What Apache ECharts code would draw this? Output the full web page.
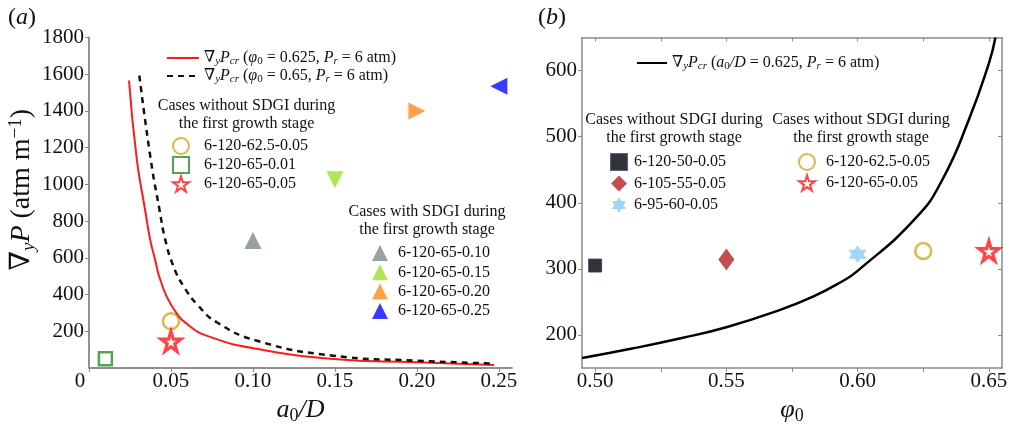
<!DOCTYPE html>
<html>
<head>
<meta charset="utf-8">
<script src="https://cdn.jsdelivr.net/npm/echarts@6/dist/echarts.min.js"></script>
<style>
html, body { margin: 0; padding: 0; background: #fff; }
#main { width: 1011px; height: 425px; }
</style>
</head>
<body>
<div id="main"></div>
<script>
// panel (a): critical gradient vs a0/D
const redCurveX = [0.0244, 0.0292, 0.0342, 0.0373, 0.0403, 0.0434, 0.0505, 0.0617, 0.0760, 0.1000, 0.149, 0.200, 0.247];
const redCurveY = [1566, 1133, 862, 699, 591, 482, 338, 226, 163, 108, 49, 31, 16];
const dashCurveX = [0.0307, 0.0377, 0.0430, 0.0465, 0.0515, 0.0576, 0.0668, 0.0781, 0.1025, 0.149, 0.200, 0.245];
const dashCurveY = [1593, 1133, 862, 699, 554, 446, 338, 248, 148, 67, 40, 25];

const leftCaseNames = ['6-120-62.5-0.05', '6-120-65-0.01', '6-120-65-0.05', '6-120-65-0.10', '6-120-65-0.15', '6-120-65-0.20', '6-120-65-0.25'];
const leftCaseX = [0.05, 0.01, 0.05, 0.10, 0.15, 0.20, 0.25];
const leftCaseY = [255, 50, 145, 695, 1025, 1400, 1535];

// panel (b): critical gradient vs phi0
const phiCurveX = [0.495, 0.5136, 0.5326, 0.5503, 0.5705, 0.583, 0.5932, 0.600, 0.6222, 0.6323, 0.6424, 0.650, 0.6525];
const phiCurveY = [165, 179, 195, 212, 238, 258, 279, 297, 377, 435, 526, 611, 650];

const rightCaseNames = ['6-120-50-0.05', '6-105-55-0.05', '6-95-60-0.05', '6-120-62.5-0.05', '6-120-65-0.05'];
const rightCaseX = [0.50, 0.55, 0.60, 0.625, 0.65];
const rightCaseY = [305, 314, 322, 327, 327];

// ticks
const leftXTicks = [0, 0.05, 0.10, 0.15, 0.20, 0.25];
const leftYTicks = [200, 400, 600, 800, 1000, 1200, 1400, 1600, 1800];
const rightXTicks = [0.50, 0.55, 0.60, 0.65];
const rightXMinor = [0.50, 0.525, 0.55, 0.575, 0.60, 0.625, 0.65];
const rightYTicks = [200, 300, 400, 500, 600];

const serif = '"Liberation Serif", "DejaVu Serif", serif';
const star5 = 'path://M50,0 L61,35 L98,35 L68,57 L79,91 L50,70 L21,91 L32,57 L2,35 L39,35 Z';
const star6 = 'path://M50,0 L64,25 L93,25 L79,50 L93,75 L64,75 L50,100 L36,75 L7,75 L21,50 L7,25 L36,25 Z';

function zip(xs, ys) {
    return xs.map((x, i) => [x, ys[i]]);
}

function mkRich(size) {
    const lh = Math.round(size * 1.15);
    const s = Math.round(size * 0.68);
    return {
        it: {fontStyle: 'italic', fontFamily: serif, fontSize: size, lineHeight: lh, color: '#111'},
        sub: {fontStyle: 'italic', fontFamily: serif, fontSize: s, lineHeight: Math.round(s * 0.8), verticalAlign: 'bottom', color: '#111'},
        subn: {fontFamily: serif, fontSize: s, lineHeight: Math.round(s * 0.8), verticalAlign: 'bottom', color: '#111'},
        sup: {fontFamily: serif, fontSize: s, lineHeight: Math.round(s * 0.8), verticalAlign: 'top', color: '#111'},
        z: {fontFamily: serif, fontSize: size, padding: [0, 18, 0, 0], color: '#111'}
    };
}

const lineLabels = {
    'gradP phi0=0.625': '∇{sub|y}{it|P}{sub|cr} ({it|φ}{subn|0} = 0.625, {it|P}{sub|r} = 6 atm)',
    'gradP phi0=0.65': '∇{sub|y}{it|P}{sub|cr} ({it|φ}{subn|0} = 0.65, {it|P}{sub|r} = 6 atm)',
    'gradP a0/D=0.625': '∇{sub|y}{it|P}{sub|cr} ({it|a}{subn|0}{it|/D} = 0.625, {it|P}{sub|r} = 6 atm)'
};

const frame = {show: true, lineStyle: {color: '#8a8a8a', width: 1.5}};
const tickOut = {length: 4, lineStyle: {color: '#8a8a8a', width: 1}};
const labelStyle = {fontFamily: serif, fontSize: 21, color: '#111'};

const leftMarks = [
    {symbol: 'circle', symbolSize: 16, itemStyle: {color: '#fff', borderColor: '#d9a21b', borderWidth: 2.5}},
    {symbol: 'rect', symbolSize: 13, itemStyle: {color: '#fff', borderColor: '#2a8c2a', borderWidth: 2.5}},
    {symbol: star5, symbolSize: 20, itemStyle: {color: '#fff', borderColor: '#ff1717', borderWidth: 3.2}},
    {symbol: 'triangle', symbolSize: 17, itemStyle: {color: '#7d8985'}},
    {symbol: 'triangle', symbolSize: 17, symbolRotate: 180, itemStyle: {color: '#9fdf2a'}},
    {symbol: 'triangle', symbolSize: 17, symbolRotate: -90, itemStyle: {color: '#ff8a1c'}},
    {symbol: 'triangle', symbolSize: 17, symbolRotate: 90, itemStyle: {color: '#0808ff'}}
];
const rightMarks = [
    {symbol: 'rect', symbolSize: 13, itemStyle: {color: '#000', borderColor: '#2a3a6a', borderWidth: 1}},
    {symbol: 'diamond', symbolSize: [16, 22], itemStyle: {color: '#b32222'}},
    {symbol: star6, symbolSize: 18, itemStyle: {color: '#88ccf8'}},
    leftMarks[0],
    leftMarks[2]
];

const series = [
    {name: 'gradP phi0=0.625', type: 'line', xAxisIndex: 0, yAxisIndex: 0, data: zip(redCurveX, redCurveY),
        smooth: 0.5, symbol: 'none', lineStyle: {color: '#ff1a1a', width: 2}, itemStyle: {color: '#ff1a1a'}},
    {name: 'gradP phi0=0.65', type: 'line', xAxisIndex: 0, yAxisIndex: 0, data: zip(dashCurveX, dashCurveY),
        smooth: 0.5, symbol: 'none', lineStyle: {color: '#111', width: 2.5, type: [6, 5]}, itemStyle: {color: '#111'}},
    {name: 'gradP a0/D=0.625', type: 'line', xAxisIndex: 2, yAxisIndex: 2, data: zip(phiCurveX, phiCurveY),
        smooth: 0.5, symbol: 'none', lineStyle: {color: '#000', width: 2.5}, itemStyle: {color: '#000'}}
];
leftCaseNames.forEach((n, i) => {
    series.push(Object.assign({name: n, type: 'scatter', xAxisIndex: 0, yAxisIndex: 0,
        data: [[leftCaseX[i], leftCaseY[i]]]}, leftMarks[i]));
});
rightCaseNames.forEach((n, i) => {
    series.push(Object.assign({name: n, type: 'scatter', xAxisIndex: 2, yAxisIndex: 2,
        data: [[rightCaseX[i], rightCaseY[i]]]}, rightMarks[i]));
});

function legend(opts, textPad) {
    return Object.assign({
        orient: 'vertical', padding: 0, itemHeight: 16, itemWidth: 16,
        textStyle: {fontFamily: serif, fontSize: 16, color: '#111', lineHeight: 18, rich: mkRich(16), padding: [0, 0, 0, textPad]},
        formatter: name => lineLabels[name] || name
    }, opts);
}
// line legends: hide the marker that echarts adds on top of the line icon
const lineItem = name => ({name: name, itemStyle: {opacity: 0}});

const groupTitle = (x, y, text) => ({
    type: 'text', x: x, y: y,
    style: {text: text, fill: '#111', font: '16px ' + serif, align: 'center', verticalAlign: 'middle', lineHeight: 18}
});

const chart = echarts.init(document.getElementById('main'));
chart.setOption({
    animation: false,
    backgroundColor: '#fff',
    grid: [
        {left: 89, top: 37.5, width: 423, height: 330.5, outerBoundsMode: 'none', containLabel: false},
        {left: 582, top: 37.5, width: 420, height: 330.5, outerBoundsMode: 'none', containLabel: false}
    ],
    xAxis: [
        {gridIndex: 0, type: 'value', min: 0, max: 0.258, position: 'bottom', axisLine: frame, splitLine: {show: false},
            axisTick: Object.assign({customValues: leftXTicks}, tickOut),
            axisLabel: {customValues: leftXTicks, margin: 3, ...labelStyle, rich: mkRich(21),
                formatter: v => v === 0 ? '{z|0}' : v.toFixed(2)},
            name: '{it|a}{subn|0}{it|/D}', nameLocation: 'middle', nameGap: 19,
            nameTextStyle: {fontFamily: serif, fontSize: 26, rich: mkRich(26)}},
        {gridIndex: 0, type: 'value', min: 0, max: 0.258, position: 'top', axisLine: frame, splitLine: {show: false},
            axisTick: Object.assign({customValues: leftXTicks, inside: true}, tickOut), axisLabel: {show: false}},
        {gridIndex: 1, type: 'value', min: 0.495, max: 0.655, position: 'bottom', axisLine: frame, splitLine: {show: false},
            axisTick: Object.assign({customValues: rightXMinor}, tickOut),
            axisLabel: {customValues: rightXTicks, margin: 3, ...labelStyle, formatter: v => v.toFixed(2)},
            name: '{it|φ}{subn|0}', nameLocation: 'middle', nameGap: 13,
            nameTextStyle: {fontFamily: serif, fontSize: 26, rich: mkRich(26)}},
        {gridIndex: 1, type: 'value', min: 0.495, max: 0.655, position: 'top', axisLine: frame, splitLine: {show: false},
            axisTick: Object.assign({customValues: rightXMinor, inside: true}, tickOut), axisLabel: {show: false}}
    ],
    yAxis: [
        {gridIndex: 0, type: 'value', min: 0, max: 1800, position: 'left', axisLine: frame, splitLine: {show: false},
            axisTick: Object.assign({customValues: leftYTicks}, tickOut),
            axisLabel: {customValues: leftYTicks, margin: 5, ...labelStyle, formatter: v => String(v)},
            name: '∇{sub|y}{it|P} (atm m{sup|−1})', nameLocation: 'middle', nameGap: 40, nameRotate: 90,
            nameTextStyle: {fontFamily: serif, fontSize: 28, color: '#111', rich: mkRich(28), padding: [0, 0, 0, 26]}},
        {gridIndex: 0, type: 'value', min: 0, max: 1800, position: 'right', axisLine: frame, splitLine: {show: false},
            axisTick: Object.assign({customValues: leftYTicks, inside: true}, tickOut), axisLabel: {show: false}},
        {gridIndex: 1, type: 'value', min: 150, max: 650, position: 'left', axisLine: frame, splitLine: {show: false},
            axisTick: Object.assign({customValues: rightYTicks}, tickOut),
            axisLabel: {customValues: rightYTicks, margin: 5, ...labelStyle, formatter: v => String(v)}},
        {gridIndex: 1, type: 'value', min: 150, max: 650, position: 'right', axisLine: frame, splitLine: {show: false},
            axisTick: Object.assign({customValues: rightYTicks, inside: true}, tickOut), axisLabel: {show: false}}
    ],
    legend: [
        legend({left: 166, top: 49, itemWidth: 32, itemGap: 0, data: [lineItem('gradP phi0=0.625'), lineItem('gradP phi0=0.65')]}, 0),
        legend({left: 172, top: 137, itemGap: 1, data: leftCaseNames.slice(0, 3)}, 10),
        legend({left: 372, top: 244, itemGap: 1.3, data: leftCaseNames.slice(3)}, 5),
        legend({left: 636, top: 54, itemWidth: 30, itemGap: 0, data: [lineItem('gradP a0/D=0.625')]}, 0),
        legend({left: 610, top: 153, itemGap: 3.5, data: rightCaseNames.slice(0, 3)}, 2),
        legend({left: 798, top: 153, itemGap: 3, data: rightCaseNames.slice(3)}, 6)
    ],
    graphic: [
        groupTitle(246.5, 115, 'Cases without SDGI during\nthe first growth stage'),
        groupTitle(427, 221, 'Cases with SDGI during\nthe first growth stage'),
        groupTitle(674, 128.5, 'Cases without SDGI during\nthe first growth stage'),
        groupTitle(861, 128.5, 'Cases without SDGI during\nthe first growth stage'),
        {type: 'text', x: 22, y: 18, style: {text: '({i|a})', fill: '#111', font: '24px ' + serif, align: 'center', verticalAlign: 'middle',
            rich: {i: {fontStyle: 'italic', fontFamily: serif, fontSize: 24}}}},
        {type: 'text', x: 552, y: 18, style: {text: '({i|b})', fill: '#111', font: '24px ' + serif, align: 'center', verticalAlign: 'middle',
            rich: {i: {fontStyle: 'italic', fontFamily: serif, fontSize: 24}}}}
    ],
    series: series
});
</script>
</body>
</html>
